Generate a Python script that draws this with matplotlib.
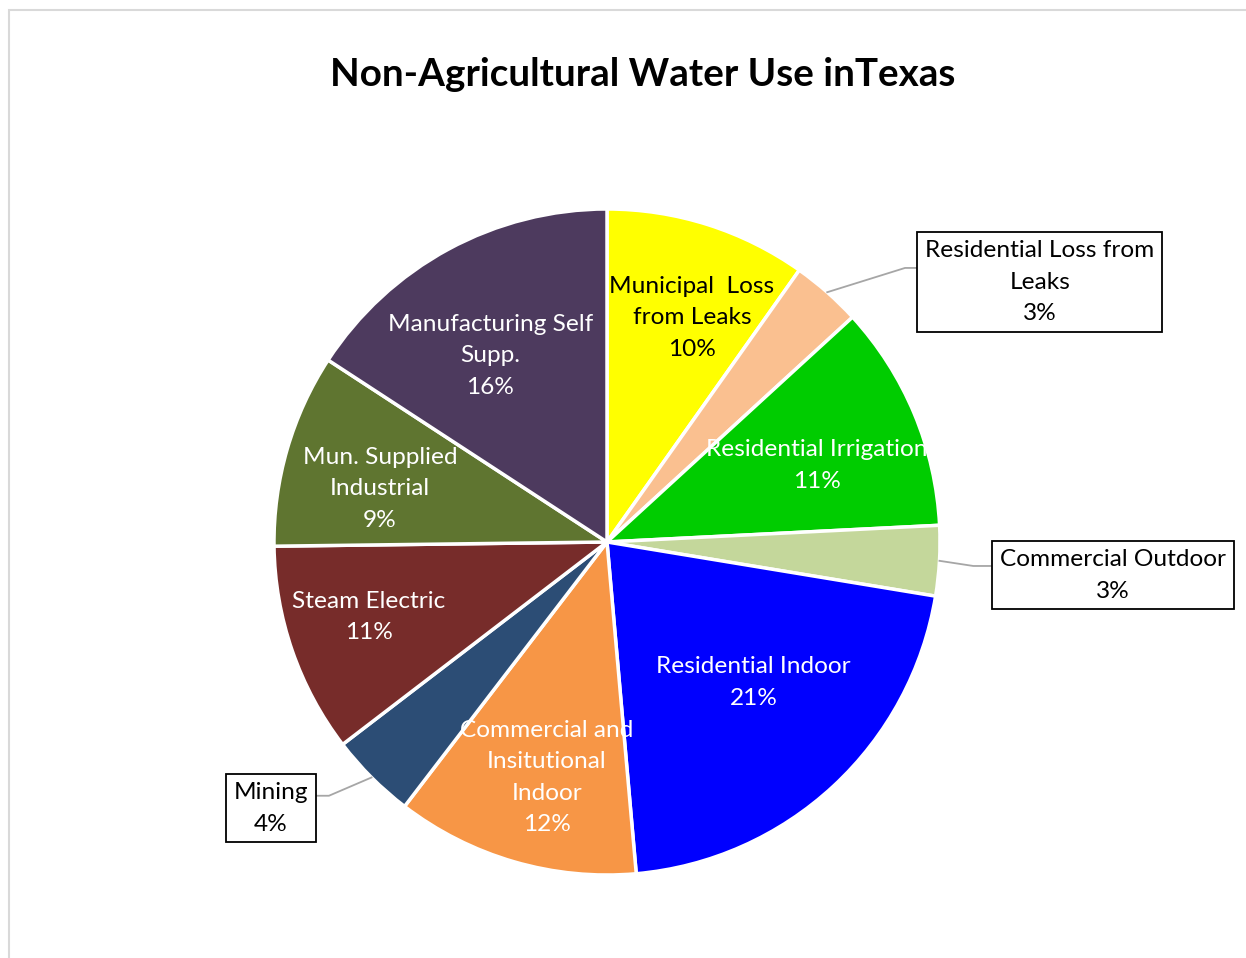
import matplotlib.pyplot as plt
import numpy as np
from matplotlib.patches import Rectangle

plt.rcParams['font.family'] = ['Lato', 'DejaVu Sans']

# slices, clockwise from 12 o'clock
categories = ["Municipal  Loss\nfrom Leaks", "Residential Loss from\nLeaks", "Residential Irrigation",
              "Commercial Outdoor", "Residential Indoor", "Commercial and\nInsitutional\nIndoor",
              "Mining", "Steam Electric", "Mun. Supplied\nIndustrial", "Manufacturing Self\nSupp."]
shares = [9.8, 3.4, 11.0, 3.4, 21.0, 11.8, 4.2, 10.2, 9.4, 15.8]
pct_labels = ["10%", "3%", "11%", "3%", "21%", "12%", "4%", "11%", "9%", "16%"]
colors = ["#FFFF00", "#FAC090", "#00CC00", "#C4D79B", "#0000FF", "#F79646",
          "#2C4D75", "#772C2A", "#5F7530", "#4D3A5E"]

W, H = 1246, 958
cx, cy, R = 607, 542, 333
FS = 17.6
LS = 1.62

fig = plt.figure(figsize=(W / 100, H / 100), dpi=100)
fig.patches.append(Rectangle((9 / W, -0.1), 1.2, 1 - 10 / H + 0.1, transform=fig.transFigure,
                             fill=False, edgecolor="#D9D9D9", linewidth=1.5))

ax = fig.add_axes([(cx - R) / W, (H - cy - R) / H, 2 * R / W, 2 * R / H])

wedges, _ = ax.pie(shares, colors=colors, startangle=90, counterclock=False, radius=1,
                   wedgeprops=dict(edgecolor="white", linewidth=2.5))
ax.set_xlim(-1, 1)
ax.set_ylim(-1, 1)
ax.axis("off")

fig.text(643 / W, 1 - 74 / H, "Non-Agricultural Water Use inTexas", ha="center", va="center",
         fontsize=27.8, fontweight="bold")

# inside labels: (radius fraction, clockwise angle shift in deg) per slice, None = callout
inner_pos = [(0.72, 3.1), None, (0.67, 2.7), None, (0.61, -3.3), (0.73, -1.9), None,
             (0.75, 1.6), (0.70, -3.0), (0.66, -3.6)]
for w, name, pct, pos, col in zip(wedges, categories, pct_labels, inner_pos, colors):
    if pos is None:
        continue
    r, shift = pos
    ang = np.deg2rad((w.theta1 + w.theta2) / 2 - shift)
    tc = "black" if col == "#FFFF00" else "white"
    ax.text(r * np.cos(ang), r * np.sin(ang), name + "\n" + pct, ha="center", va="center",
            fontsize=FS, color=tc, linespacing=LS)

# callout labels: (box center, elbow point, box anchor) in data units
callouts = {
    1: ((1.30, 0.78), (0.895, 0.823), (0.934, 0.823)),
    3: ((1.52, -0.10), (1.10, -0.072), (1.153, -0.072)),
    6: ((-1.01, -0.80), (-0.835, -0.762), (-0.875, -0.762)),
}
for i, (box, elbow, anchor) in callouts.items():
    w = wedges[i]
    ang = np.deg2rad((w.theta1 + w.theta2) / 2)
    ex, ey = np.cos(ang), np.sin(ang)
    ax.plot([ex, elbow[0], anchor[0]], [ey, elbow[1], anchor[1]], color="#A6A6A6", lw=1.3,
            clip_on=False)
    ax.text(box[0], box[1], categories[i] + "\n" + pct_labels[i], ha="center", va="center",
            fontsize=FS, color="black", linespacing=LS,
            bbox=dict(boxstyle="square,pad=0.32", facecolor="white", edgecolor="black", linewidth=1.3))

fig.savefig("out.png", dpi=100)
